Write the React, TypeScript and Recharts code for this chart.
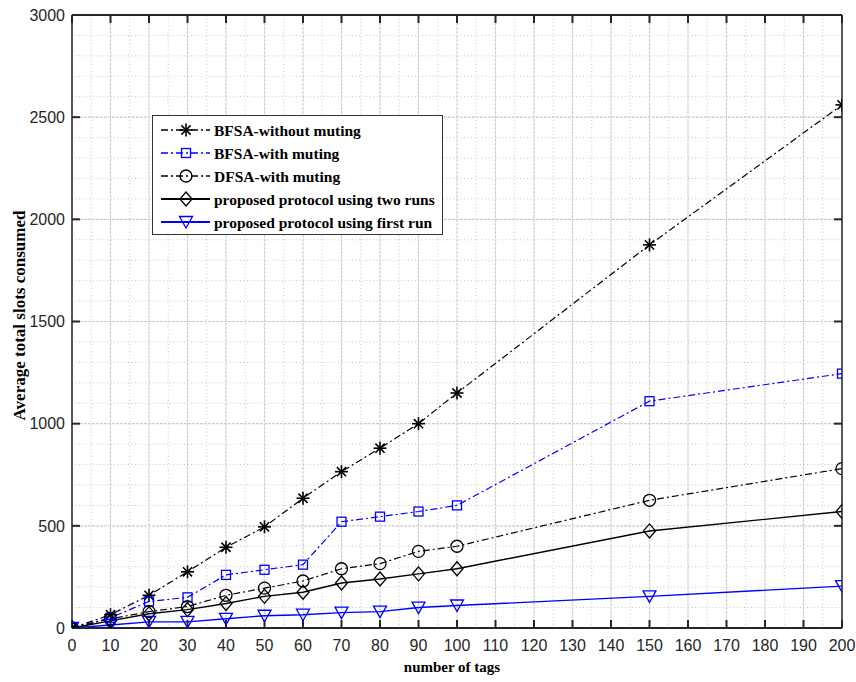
import React from 'react';
import { LineChart, Line, XAxis, YAxis, CartesianGrid, Legend, ReferenceLine, ReferenceDot } from 'recharts';

// ---------- data ----------
const tags = [0, 10, 20, 30, 40, 50, 60, 70, 80, 90, 100, 150, 200];
const bfsaWithoutMuting = [0, 65, 160, 275, 395, 495, 635, 765, 880, 1000, 1150, 1875, 2560];
const bfsaWithMuting = [0, 50, 130, 150, 260, 285, 310, 520, 545, 570, 600, 1110, 1245];
const dfsaWithMuting = [0, 45, 80, 105, 160, 195, 230, 290, 315, 375, 400, 625, 780];
const proposedTwoRuns = [0, 35, 70, 90, 120, 155, 175, 220, 240, 265, 290, 475, 570];
const proposedFirstRun = [0, 15, 30, 30, 45, 60, 65, 75, 80, 100, 110, 155, 205];

const xTicks = [0, 10, 20, 30, 40, 50, 60, 70, 80, 90, 100, 110, 120, 130, 140, 150, 160, 170, 180, 190, 200];
const yTicks = [0, 500, 1000, 1500, 2000, 2500, 3000];
const xMinorGrid = [5, 15, 25, 35, 45, 55, 65, 75, 85, 95, 105, 115, 125, 135, 145, 155, 165, 175, 185, 195];
const yMinorGrid = [100, 200, 300, 400, 600, 700, 800, 900, 1100, 1200, 1300, 1400, 1600, 1700, 1800, 1900, 2100, 2200, 2300, 2400, 2600, 2700, 2800, 2900];
const xDomain = [0, 200];
const yDomain = [0, 3000];

const seriesKeys = ['bfsaNo', 'bfsaMute', 'dfsaMute', 'twoRuns', 'firstRun'];
const seriesNames = [
  'BFSA-without muting',
  'BFSA-with muting',
  'DFSA-with muting',
  'proposed protocol using two runs',
  'proposed protocol using first run',
];
const seriesColors = ['#000000', '#0000ff', '#000000', '#000000', '#0000ff'];
const seriesShapes = ['star', 'square', 'circle', 'diamond', 'triangle'];
const seriesDash = ['7 3 2 3', '7 3 2 3', '7 3 2 3', '', ''];
const seriesWidth = [1.2, 1.2, 1.2, 1.4, 1.4];

const seriesValues = [bfsaWithoutMuting, bfsaWithMuting, dfsaWithMuting, proposedTwoRuns, proposedFirstRun];

const data = tags.map((t, i) => {
  const row: any = { tags: t };
  seriesKeys.forEach((k, s) => {
    row[k] = seriesValues[s][i];
  });
  return row;
});

// ---------- styling ----------
const AXIS = '#262626';
const TICK_FONT = '"Liberation Sans", Arial, sans-serif';
const LABEL_FONT = '"Liberation Serif", "Times New Roman", serif';
const X_MARGIN = 12;
const Y_MARGIN = 7;
const TICK_LEN = 8;

const Marker = ({ shape, cx, cy, color }: { shape: string; cx: number; cy: number; color: string }) => {
  if (cx == null || cy == null || isNaN(cx) || isNaN(cy)) return null;
  if (shape === 'star') {
    const r = 6.5;
    const d = 4.6;
    return (
      <g stroke={color} strokeWidth={1.6} fill="none">
        <line x1={cx} y1={cy - r} x2={cx} y2={cy + r} />
        <line x1={cx - r} y1={cy} x2={cx + r} y2={cy} />
        <line x1={cx - d} y1={cy - d} x2={cx + d} y2={cy + d} />
        <line x1={cx - d} y1={cy + d} x2={cx + d} y2={cy - d} />
      </g>
    );
  }
  if (shape === 'square') {
    return <rect x={cx - 4.5} y={cy - 4.5} width={9} height={9} stroke={color} strokeWidth={1.3} fill="none" />;
  }
  if (shape === 'circle') {
    return <circle cx={cx} cy={cy} r={6} stroke={color} strokeWidth={1.3} fill="none" />;
  }
  if (shape === 'diamond') {
    return (
      <polygon
        points={`${cx},${cy - 7} ${cx + 6},${cy} ${cx},${cy + 7} ${cx - 6},${cy}`}
        stroke={color}
        strokeWidth={1.3}
        fill="none"
      />
    );
  }
  return (
    <polygon
      points={`${cx - 6.5},${cy - 5.5} ${cx + 6.5},${cy - 5.5} ${cx},${cy + 6}`}
      stroke={color}
      strokeWidth={1.3}
      fill="none"
    />
  );
};

const makeDot = (shape: string, color: string) => (props: any) => (
  <g key={`dot-${shape}-${props.index}`}>
    <Marker shape={shape} cx={props.cx} cy={props.cy} color={color} />
  </g>
);

const BottomTick = (props: any) => {
  const { x, y, payload } = props;
  return (
    <text x={x} y={y} dy="0.71em" textAnchor="middle" fontFamily={TICK_FONT} fontSize={16} fill={AXIS}>
      {payload.value}
    </text>
  );
};

const LeftTick = (props: any) => {
  const { x, y, payload } = props;
  return (
    <text x={x} y={y} dy="0.36em" textAnchor="end" fontFamily={TICK_FONT} fontSize={16} fill={AXIS}>
      {payload.value}
    </text>
  );
};

// inward tick marks, placed through the chart scales
const tickMark = (dx: number, dy: number) => (p: any) => {
  if (p.cx == null || p.cy == null) return <g />;
  return <line x1={p.cx} y1={p.cy} x2={p.cx + dx} y2={p.cy + dy} stroke={AXIS} strokeWidth={2} />;
};

const YLabel = (props: any) => {
  const vb = props.viewBox || { x: 0, y: 15, width: 72, height: 613 };
  const cx = vb.x + 19;
  const cy = vb.y + vb.height / 2 - 6;
  return (
    <text
      x={cx}
      y={cy}
      transform={`rotate(-90 ${cx} ${cy})`}
      textAnchor="middle"
      dy="0.35em"
      fontFamily={LABEL_FONT}
      fontWeight="bold"
      fontSize={17}
      fill="#000"
    >
      Average total slots consumed
    </text>
  );
};

const XLabel = (props: any) => {
  const vb = props.viewBox || { x: 72, y: 628, width: 770, height: 54 };
  const cx = vb.x + vb.width / 2 - 5;
  const by = vb.y + 44;
  return (
    <text x={cx} y={by} textAnchor="middle" fontFamily={LABEL_FONT} fontWeight="bold" fontSize={15} fill="#000">
      number of tags
    </text>
  );
};

const LegendBox = () => (
  <div
    style={{
      width: 291,
      height: 120,
      boxSizing: 'border-box',
      border: '1.3px solid #333',
      background: '#fff',
      paddingTop: 2.5,
    }}
  >
    {seriesNames.map((name, i) => (
      <div key={name} style={{ display: 'flex', alignItems: 'center', height: 23 }}>
        <svg width={61} height={22} style={{ display: 'block', flex: 'none' }}>
          <line
            x1={8}
            x2={57}
            y1={11}
            y2={11}
            stroke={seriesColors[i]}
            strokeWidth={i >= 3 ? 2 : 1.3}
            strokeDasharray={seriesDash[i] || undefined}
          />
          <Marker shape={seriesShapes[i]} cx={33} cy={11} color={seriesColors[i]} />
        </svg>
        <span
          style={{
            fontFamily: LABEL_FONT,
            fontWeight: 'bold',
            fontSize: 15.5,
            color: '#000',
            whiteSpace: 'nowrap',
            lineHeight: '23px',
          }}
        >
          {name}
        </span>
      </div>
    ))}
  </div>
);

export default function App() {
  return (
    <div style={{ position: 'absolute', left: 0, top: 0, width: 856, height: 682, background: '#fff' }}>
      <LineChart width={856} height={682} data={data} margin={{ top: 15, right: 14, bottom: 0, left: 0 }}>
        <CartesianGrid
          horizontalValues={yMinorGrid}
          verticalValues={xMinorGrid}
          stroke="#c6c6c6"
          strokeDasharray="1 2.5"
          strokeWidth={1}
        />
        <CartesianGrid
          horizontalValues={yTicks}
          verticalValues={xTicks}
          stroke="#cdcdcd"
          strokeDasharray="3 1"
          strokeWidth={1.2}
        />
        <XAxis
          dataKey="tags"
          type="number"
          domain={xDomain}
          ticks={xTicks}
          allowDataOverflow
          interval={0}
          height={54}
          tickSize={0}
          tickMargin={X_MARGIN}
          tickLine={false}
          axisLine={{ stroke: AXIS, strokeWidth: 2 }}
          tick={<BottomTick />}
          label={XLabel}
        />
        <YAxis
          type="number"
          domain={yDomain}
          ticks={yTicks}
          allowDataOverflow
          interval={0}
          width={72}
          tickSize={0}
          tickMargin={Y_MARGIN}
          tickLine={false}
          axisLine={{ stroke: AXIS, strokeWidth: 1.5 }}
          tick={<LeftTick />}
          label={YLabel}
        />
        <ReferenceLine y={yDomain[1]} stroke={AXIS} strokeWidth={2} ifOverflow="visible" />
        <ReferenceLine x={xDomain[1]} stroke={AXIS} strokeWidth={1.5} ifOverflow="visible" />
        {xTicks.map((v) => (
          <ReferenceDot key={`bt-${v}`} x={v} y={yDomain[0]} r={1} ifOverflow="visible" shape={tickMark(0, -TICK_LEN)} />
        ))}
        {xTicks.map((v) => (
          <ReferenceDot key={`tt-${v}`} x={v} y={yDomain[1]} r={1} ifOverflow="visible" shape={tickMark(0, TICK_LEN)} />
        ))}
        {yTicks.map((v) => (
          <ReferenceDot key={`lt-${v}`} x={xDomain[0]} y={v} r={1} ifOverflow="visible" shape={tickMark(TICK_LEN, 0)} />
        ))}
        {yTicks.map((v) => (
          <ReferenceDot key={`rt-${v}`} x={xDomain[1]} y={v} r={1} ifOverflow="visible" shape={tickMark(-TICK_LEN, 0)} />
        ))}
        {seriesKeys.map((k, i) => (
          <Line
            key={k}
            type="linear"
            dataKey={k}
            name={seriesNames[i]}
            stroke={seriesColors[i]}
            strokeWidth={seriesWidth[i]}
            strokeDasharray={seriesDash[i] || undefined}
            dot={makeDot(seriesShapes[i], seriesColors[i])}
            activeDot={false}
            isAnimationActive={false}
          />
        ))}
        <Legend
          layout="vertical"
          align="center"
          verticalAlign="middle"
          content={() => <LegendBox />}
          wrapperStyle={{ left: 152, top: 115, width: 'auto', height: 'auto' }}
        />
      </LineChart>
    </div>
  );
}
